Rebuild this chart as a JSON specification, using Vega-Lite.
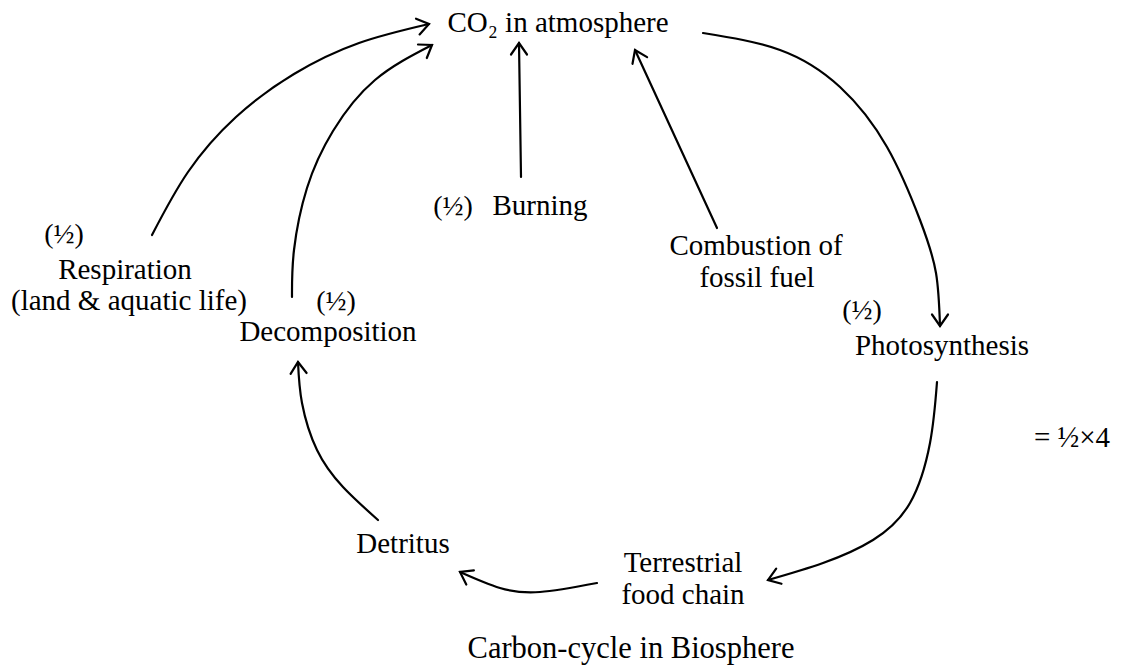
{
  "$schema": "https://vega.github.io/schema/vega-lite/v6.json",
  "width": 1128,
  "height": 666,
  "autosize": {"type": "fit", "contains": "padding"},
  "padding": 0,
  "background": "white",
  "config": {"view": {"stroke": null}},
  "datasets": {
    "curves": [
      {"path": "respiration", "i": 0, "x": 152, "y": 235},
      {"path": "respiration", "i": 1, "x": 188, "y": 172},
      {"path": "respiration", "i": 2, "x": 236, "y": 117},
      {"path": "respiration", "i": 3, "x": 294, "y": 74},
      {"path": "respiration", "i": 4, "x": 359, "y": 43},
      {"path": "respiration", "i": 5, "x": 429, "y": 24},
      {"path": "decomposition", "i": 0, "x": 292, "y": 297},
      {"path": "decomposition", "i": 1, "x": 294, "y": 250},
      {"path": "decomposition", "i": 2, "x": 307, "y": 188},
      {"path": "decomposition", "i": 3, "x": 333, "y": 131},
      {"path": "decomposition", "i": 4, "x": 375, "y": 80},
      {"path": "decomposition", "i": 5, "x": 432, "y": 45},
      {"path": "burning", "i": 0, "x": 521, "y": 177},
      {"path": "burning", "i": 1, "x": 519, "y": 43},
      {"path": "combustion", "i": 0, "x": 717, "y": 228},
      {"path": "combustion", "i": 1, "x": 635, "y": 50},
      {"path": "photosynthesis", "i": 0, "x": 703, "y": 33},
      {"path": "photosynthesis", "i": 1, "x": 780, "y": 50},
      {"path": "photosynthesis", "i": 2, "x": 840, "y": 87},
      {"path": "photosynthesis", "i": 3, "x": 887, "y": 147},
      {"path": "photosynthesis", "i": 4, "x": 920, "y": 220},
      {"path": "photosynthesis", "i": 5, "x": 936, "y": 273},
      {"path": "photosynthesis", "i": 6, "x": 940, "y": 326},
      {"path": "to_food_chain", "i": 0, "x": 937, "y": 382},
      {"path": "to_food_chain", "i": 1, "x": 930, "y": 443},
      {"path": "to_food_chain", "i": 2, "x": 910, "y": 503},
      {"path": "to_food_chain", "i": 3, "x": 873, "y": 540},
      {"path": "to_food_chain", "i": 4, "x": 823, "y": 563},
      {"path": "to_food_chain", "i": 5, "x": 768, "y": 580},
      {"path": "to_detritus", "i": 0, "x": 597, "y": 583},
      {"path": "to_detritus", "i": 1, "x": 540, "y": 592},
      {"path": "to_detritus", "i": 2, "x": 500, "y": 588},
      {"path": "to_detritus", "i": 3, "x": 460, "y": 572},
      {"path": "to_decomposition", "i": 0, "x": 378, "y": 520},
      {"path": "to_decomposition", "i": 1, "x": 343, "y": 487},
      {"path": "to_decomposition", "i": 2, "x": 317, "y": 450},
      {"path": "to_decomposition", "i": 3, "x": 302, "y": 403},
      {"path": "to_decomposition", "i": 4, "x": 298, "y": 362}
    ],
    "heads": [
      {"head": "respiration", "i": 0, "x": 416, "y": 18.7},
      {"head": "respiration", "i": 1, "x": 429, "y": 24},
      {"head": "respiration", "i": 2, "x": 419.6, "y": 34.4},
      {"head": "decomposition", "i": 0, "x": 418, "y": 44.5},
      {"head": "decomposition", "i": 1, "x": 432, "y": 45},
      {"head": "decomposition", "i": 2, "x": 426.8, "y": 58},
      {"head": "burning", "i": 0, "x": 511, "y": 54.5},
      {"head": "burning", "i": 1, "x": 519, "y": 43},
      {"head": "burning", "i": 2, "x": 527, "y": 54.5},
      {"head": "combustion", "i": 0, "x": 632.5, "y": 63.8},
      {"head": "combustion", "i": 1, "x": 635, "y": 50},
      {"head": "combustion", "i": 2, "x": 647.1, "y": 57.1},
      {"head": "photosynthesis", "i": 0, "x": 932, "y": 314.5},
      {"head": "photosynthesis", "i": 1, "x": 940, "y": 326},
      {"head": "photosynthesis", "i": 2, "x": 948, "y": 314.5},
      {"head": "to_food_chain", "i": 0, "x": 776.2, "y": 568.7},
      {"head": "to_food_chain", "i": 1, "x": 768, "y": 580},
      {"head": "to_food_chain", "i": 2, "x": 781.5, "y": 583.8},
      {"head": "to_detritus", "i": 0, "x": 466.3, "y": 584.5},
      {"head": "to_detritus", "i": 1, "x": 460, "y": 572},
      {"head": "to_detritus", "i": 2, "x": 473.9, "y": 570.3},
      {"head": "to_decomposition", "i": 0, "x": 290.6, "y": 373.9},
      {"head": "to_decomposition", "i": 1, "x": 298, "y": 362},
      {"head": "to_decomposition", "i": 2, "x": 306.6, "y": 373}
    ],
    "labels": [
      {"label": "CO₂ in atmosphere", "x": 558, "y": 32},
      {"label": "Burning", "x": 540, "y": 215},
      {"label": "Respiration", "x": 125, "y": 279},
      {"label": "(land & aquatic life)", "x": 129, "y": 310},
      {"label": "Decomposition", "x": 328, "y": 341},
      {"label": "Combustion of", "x": 756, "y": 255},
      {"label": "fossil fuel", "x": 757, "y": 287},
      {"label": "Photosynthesis", "x": 942, "y": 355},
      {"label": "= ½×4", "x": 1072, "y": 447},
      {"label": "Detritus", "x": 403, "y": 553},
      {"label": "Terrestrial", "x": 683, "y": 572},
      {"label": "food chain", "x": 683, "y": 604}
    ],
    "marks": [
      {"label": "(½)", "x": 453, "y": 215},
      {"label": "(½)", "x": 64, "y": 243},
      {"label": "(½)", "x": 336, "y": 310},
      {"label": "(½)", "x": 862, "y": 319}
    ],
    "caption": [
      {"label": "Carbon-cycle in Biosphere", "x": 631, "y": 658}
    ]
  },
  "encoding": {
    "x": {"field": "x", "type": "quantitative", "axis": null, "scale": {"domain": [0, 1128], "nice": false, "zero": false}},
    "y": {"field": "y", "type": "quantitative", "axis": null, "scale": {"domain": [0, 666], "nice": false, "zero": false, "reverse": true}}
  },
  "layer": [
    {
      "data": {"name": "curves"},
      "mark": {"type": "line", "interpolate": "natural", "stroke": "black", "strokeWidth": 2.2, "strokeCap": "round"},
      "encoding": {"detail": {"field": "path"}, "order": {"field": "i", "type": "quantitative"}}
    },
    {
      "data": {"name": "heads"},
      "mark": {"type": "line", "interpolate": "linear", "stroke": "black", "strokeWidth": 2.2, "strokeCap": "round", "strokeJoin": "miter"},
      "encoding": {"detail": {"field": "head"}, "order": {"field": "i", "type": "quantitative"}}
    },
    {
      "data": {"name": "labels"},
      "mark": {"type": "text", "font": "Liberation Serif", "fontSize": 29, "align": "center", "baseline": "alphabetic", "color": "black"},
      "encoding": {"text": {"field": "label"}}
    },
    {
      "data": {"name": "marks"},
      "mark": {"type": "text", "font": "Liberation Serif", "fontSize": 28, "fontWeight": "normal", "align": "center", "baseline": "alphabetic", "color": "black"},
      "encoding": {"text": {"field": "label"}}
    },
    {
      "data": {"name": "caption"},
      "mark": {"type": "text", "font": "Liberation Serif", "fontSize": 30.5, "align": "center", "baseline": "alphabetic", "color": "black"},
      "encoding": {"text": {"field": "label"}}
    }
  ]
}
